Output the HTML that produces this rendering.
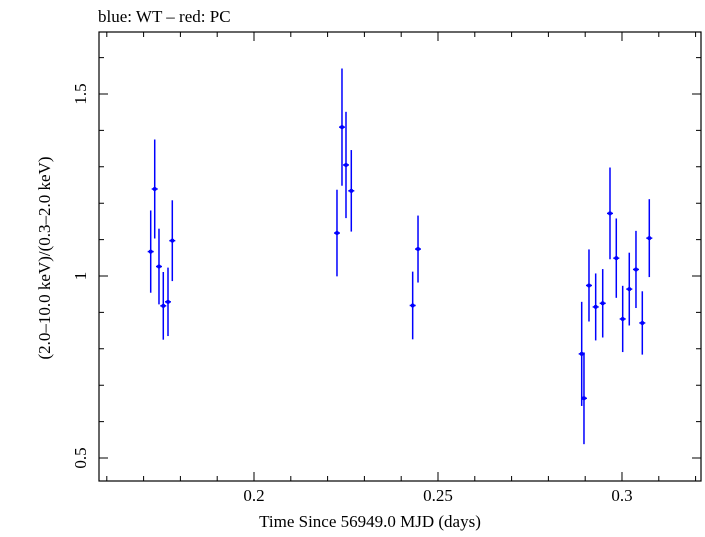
<!DOCTYPE html>
<html><head><meta charset="utf-8"><style>
body{margin:0;background:#fff;}
svg text{font-family:"Liberation Serif",serif;fill:#000;}
</style></head><body>
<svg id="chart" width="705" height="532" xmlns="http://www.w3.org/2000/svg">
<text x="98" y="22" font-size="17">blue: WT – red: PC</text>
<rect x="99" y="32" width="602" height="449" fill="none" stroke="#000" stroke-width="1.2"/>
<g id="ticks"></g>
<g id="marks"></g>
<text x="370" y="527" font-size="17" text-anchor="middle">Time Since 56949.0 MJD (days)</text>
<text transform="translate(50,258) rotate(-90)" font-size="17" text-anchor="middle">(2.0–10.0 keV)/(0.3–2.0 keV)</text>
</svg>
<script>
const times=[0.17193,0.17302,0.17418,0.17535,0.17663,0.17780,0.22255,0.22391,0.22500,0.22644,0.24312,0.24457,0.28905,0.28967,0.29103,0.29285,0.29476,0.29674,0.29845,0.30019,0.30198,0.30380,0.30552,0.30742];
const ratios=[1.067,1.239,1.026,0.918,0.929,1.097,1.118,1.409,1.305,1.234,0.919,1.074,0.786,0.664,0.974,0.915,0.925,1.172,1.049,0.882,0.964,1.018,0.871,1.104];
const errors=[0.113,0.136,0.104,0.093,0.094,0.111,0.119,0.161,0.146,0.112,0.093,0.092,0.143,0.126,0.099,0.092,0.094,0.126,0.109,0.091,0.100,0.106,0.087,0.107];
const xTicks=[0.2,0.25,0.3];
const xTickLabels=["0.2","0.25","0.3"];
const yTicks=[0.5,1,1.5];
const yTickLabels=["0.5","1","1.5"];
const X0=99,X1=701,Y0=32,Y1=481;
const xMin=0.15788,xMax=0.32147,yMin=0.4368,yMax=1.6703;
const xs=v=>X0+(v-xMin)/(xMax-xMin)*(X1-X0);
const ys=v=>Y1-(v-yMin)/(yMax-yMin)*(Y1-Y0);
const NS="http://www.w3.org/2000/svg";
function mk(tag,attrs,parent){const e=document.createElementNS(NS,tag);for(const k in attrs)e.setAttribute(k,attrs[k]);parent.appendChild(e);return e;}
const tg=document.getElementById('ticks');
for(let i=16;i<=32;i++){const v=i/100;if(v<xMin||v>xMax)continue;const x=xs(v);const major=i%5===0;const L=major?9:5;
 const t=mk('path',{d:`M${x},${Y1}v${-L}M${x},${Y0}v${L}`,stroke:'#000','stroke-width':1},tg);
 
 }
for(let i=5;i<=16;i++){const v=i/10;if(v<yMin||v>yMax)continue;const y=ys(v);const major=i%5===0;const L=major?9:5;
 const t=mk('path',{d:`M${X0},${y}h${L}M${X1},${y}h${-L}`,stroke:'#000','stroke-width':1},tg);
 
 }
xTicks.forEach((v,i)=>{const t=mk('text',{x:xs(v),y:501,'font-size':17,'text-anchor':'middle'},tg);t.textContent=xTickLabels[i];
 
 });
yTicks.forEach((v,i)=>{const t=mk('text',{transform:`translate(86,${ys(v)}) rotate(-90)`,'font-size':17,'text-anchor':'middle'},tg);t.textContent=yTickLabels[i];
 
 });
const mg=document.getElementById('marks');
times.forEach((t,i)=>{const x=xs(t),y=ys(ratios[i]);
 const g=mk('g',{},mg);
 
 
 mk('line',{x1:x,x2:x,y1:ys(ratios[i]+errors[i]),y2:ys(ratios[i]-errors[i]),stroke:'#0000ff','stroke-width':1.5},g);
 mk('line',{x1:x-3,x2:x+3,y1:y,y2:y,stroke:'#0000ff','stroke-width':1.5},g);
 mk('circle',{cx:x,cy:y,r:2,fill:'#0000ff'},g);});
</script>
</body></html>
